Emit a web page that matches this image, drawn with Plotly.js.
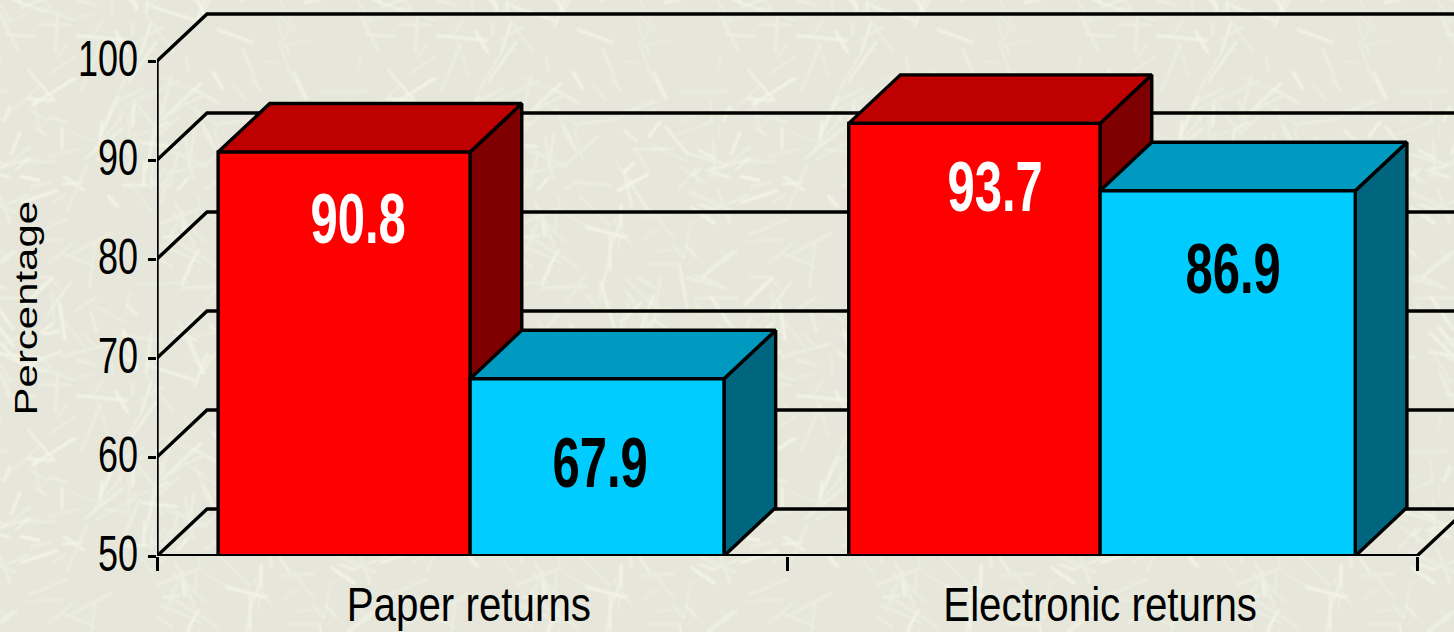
<!DOCTYPE html>
<html>
<head>
<meta charset="utf-8">
<script src="https://cdn.plot.ly/plotly-3.0.0.min.js"></script>
<style>html,body{margin:0;padding:0;width:1454px;height:632px;overflow:hidden;background:#e6e7da}#chart{width:1454px;height:632px}</style>
</head>
<body>
<div id="chart"></div>
<script>
// Data
const categories = ['Paper returns', 'Electronic returns'];
const redValues = [90.8, 93.7];
const blueValues = [67.9, 86.9];
const yTicks = [50, 60, 70, 80, 90, 100];

// Background texture (decorative only, deterministic)
(function () {
  const W = 360, c = document.createElement('canvas');
  c.width = c.height = W;
  const g = c.getContext('2d');
  g.fillStyle = '#e6e7da'; g.fillRect(0, 0, W, W);
  g.filter = 'blur(1px)';
  g.lineCap = 'round';
  const h = v => { const s = Math.sin(v * 12.9898) * 43758.5453; return s - Math.floor(s); };
  for (let i = 1; i <= 250; i++) {
    const x = h(i) * W, y = h(i + 500) * W;
    const a = h(i + 1000) * Math.PI, l = 12 + h(i + 1500) * 40;
    g.lineWidth = 1.5 + h(i + 2000) * 1.5;
    g.strokeStyle = h(i + 2500) > 0.6 ? '#f4f5e8' : '#edeee1';
    for (const ox of [-W, 0, W]) for (const oy of [-W, 0, W]) {
      g.beginPath(); g.moveTo(x + ox, y + oy);
      g.lineTo(x + ox + Math.cos(a) * l, y + oy + Math.sin(a) * l); g.stroke();
    }
  }
  document.body.style.backgroundImage = 'url(' + c.toDataURL() + ')';
})();

// Geometry of the fake 3D, in axis units
const wallDx = 0.0794, wallDy = 4.75;
const barDx = 0.082, barDy = 4.9;
const redSpans = [[0.097, 0.497], [1.098, 1.497]];
const blueSpans = [[0.497, 0.9], [1.497, 1.902]];
const xMax = (1454 - 157) / 630, yMax = 50 + 556 / 9.9;
const LW = 3.4;

const traces = [];
function poly(xs, ys, fill) {
  traces.push({x: xs, y: ys, type: 'scatter', mode: 'lines', fill: 'toself', fillcolor: fill,
    line: {color: '#000', width: LW, shape: 'linear'}, hoverinfo: 'skip', showlegend: false});
}
function seg(xs, ys, w) {
  traces.push({x: xs, y: ys, type: 'scatter', mode: 'lines',
    line: {color: '#000', width: w || LW}, hoverinfo: 'skip', showlegend: false});
}
// Walls
const gx = [], gy = [];
yTicks.forEach(v => {
  gx.push(0, wallDx, xMax + 0.1, null);
  gy.push(v, v + wallDy, v + wallDy, null);
});
seg(gx, gy);
seg([2, 2 + wallDx], [50, 50 + wallDy]);
seg([0, 0], [50, 100]);

function bar3d(span, v, front, top, side) {
  const [a, b] = span;
  poly([b, b + barDx, b + barDx, b, b], [50, 50 + barDy, v + barDy, v, 50], side);
  poly([a, a + barDx, b + barDx, b, a], [v, v + barDy, v + barDy, v, v], top);
  poly([a, b, b, a, a], [50, 50, v, v, 50], front);
}
categories.forEach((c, i) => {
  bar3d(redSpans[i], redValues[i], '#ff0000', '#bf0000', '#7f0000');
  bar3d(blueSpans[i], blueValues[i], '#00ccff', '#0099bf', '#00667f');
});
seg([0, 2], [50, 50], 4);

const FONT = '"Liberation Sans",Arial,sans-serif';
const annotations = [];
const mid = s => (s[0] + s[1]) / 2;
const addLabel = (span, v, color, dx, dy) => annotations.push({
  x: mid(span), y: v, xref: 'x', yref: 'y', text: v.toFixed(1), showarrow: false,
  xanchor: 'center', yanchor: 'middle', xshift: dx, yshift: dy,
  font: {family: FONT, size: 70, weight: 700, color: color}
});
addLabel(redSpans[0], redValues[0], '#fff', 14, -67);
addLabel(blueSpans[0], blueValues[0], '#000', 3, -84);
addLabel(redSpans[1], redValues[1], '#fff', 21, -64);
addLabel(blueSpans[1], blueValues[1], '#000', 5, -78);
annotations.push({
  xref: 'paper', yref: 'paper', x: 0, y: 0.446, xshift: -131, xanchor: 'center', yanchor: 'middle',
  text: 'Percentage', textangle: -90,
  showarrow: false, font: {family: FONT, size: 32, color: '#000'}
});

const layout = {
  width: 1454, height: 632, margin: {l: 157, r: 0, t: 0, b: 76, pad: 0},
  paper_bgcolor: 'rgba(0,0,0,0)', plot_bgcolor: 'rgba(0,0,0,0)',
  showlegend: false, hovermode: false, annotations: annotations,
  xaxis: {
    range: [0, xMax], showgrid: false, zeroline: false, showline: false,
    tickmode: 'array', tickvals: [0.495, 1.497], ticktext: categories,
    ticks: 'outside', ticklen: 6, tickcolor: 'rgba(0,0,0,0)', tickwidth: 1,
    tickfont: {family: FONT, size: 48, color: '#000'},
    minor: {tickmode: 'array', tickvals: [0, 1, 2], ticks: 'outside', ticklen: 14, tickwidth: 3, tickcolor: '#000', showgrid: false}
  },
  yaxis: {
    range: [50, yMax], showgrid: false, zeroline: false, showline: false,
    tickmode: 'array', tickvals: yTicks, ticks: 'outside', ticklen: 8, tickwidth: 3, tickcolor: '#000',
    tickfont: {family: FONT, size: 50, color: '#000'}
  }
};

// The reference text is condensed or widened along its baseline
function fit(selector, factor, dy) {
  document.querySelectorAll(selector).forEach(t => {
    const len = t.getComputedTextLength();
    t.setAttribute('textLength', len * factor);
    t.setAttribute('lengthAdjust', 'spacingAndGlyphs');
    if (dy) t.setAttribute('dy', dy);
  });
}
Plotly.newPlot('chart', traces, layout, {displayModeBar: false, staticPlot: true}).then(() => {
  fit('.xtick text', 0.84);
  fit('.ytick text', 0.72, -3);
  document.querySelectorAll('.annotation-text').forEach(t => {
    const wide = t.textContent === 'Percentage';
    t.setAttribute('textLength', t.getComputedTextLength() * (wide ? 1.31 : 0.7));
    t.setAttribute('lengthAdjust', 'spacingAndGlyphs');
  });
});
</script>
</body>
</html>
